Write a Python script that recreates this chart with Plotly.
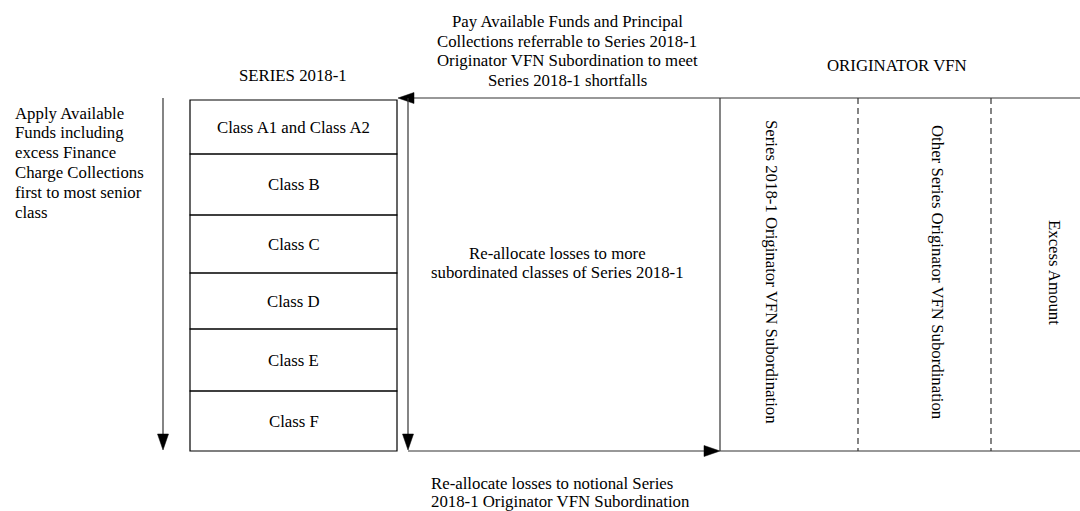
import plotly.graph_objects as go

# ---- content (labels) ----
headers = ["SERIES 2018-1", "ORIGINATOR VFN"]
classes = ["Class A1 and Class A2", "Class B", "Class C", "Class D", "Class E", "Class F"]
vfn_parts = ["Series 2018-1 Originator VFN Subordination",
             "Other Series Originator VFN Subordination",
             "Excess Amount"]
apply_note = ["Apply Available", "Funds including", "excess Finance",
              "Charge Collections", "first to most senior", "class"]
pay_note = ["Pay Available Funds and Principal",
            "Collections referrable to Series 2018-1",
            "Originator VFN Subordination to meet",
            "Series 2018-1 shortfalls"]
realloc_note = ["Re-allocate losses to more", "subordinated classes of Series 2018-1"]
notional_note = ["Re-allocate losses to notional Series",
                 "2018-1 Originator VFN Subordination"]

# ---- layout geometry (canvas pixels, used as axis units) ----
W, H = 1080, 511
FONT = "Liberation Serif, Times New Roman, serif"
FS = 16.8
LC = "#333333"
LW = 1.2
row_edges = [100, 154, 215, 273, 329, 391, 451]
box_x0, box_x1 = 190, 397
top_y, bot_y = 98, 451
left_arrow_x = 163
inner_x = 408
vfn_x = [720, 858, 991, 1080]
line_gap = 19.8

fig = go.Figure()
fig.add_trace(go.Scatter(x=[0, W], y=[0, H], mode="markers",
                         marker=dict(opacity=0), hoverinfo="skip", showlegend=False))

shapes = []
annotations = []

def line(x0, y0, x1, y1, dash="solid"):
    shapes.append(dict(type="line", x0=x0, y0=y0, x1=x1, y1=y1, xref="x", yref="y",
                       line=dict(color=LC, width=LW, dash=dash)))

def head(tx, ty, direction, length=16, half=5.5):
    if direction == "down":
        p = f"M {tx} {ty} L {tx-half} {ty-length} L {tx+half} {ty-length} Z"
    elif direction == "left":
        p = f"M {tx} {ty} L {tx+length} {ty-half} L {tx+length} {ty+half} Z"
    else:  # right
        p = f"M {tx} {ty} L {tx-length} {ty-half} L {tx-length} {ty+half} Z"
    shapes.append(dict(type="path", path=p, xref="x", yref="y",
                       fillcolor="#000000", line=dict(color="#000000", width=0.5)))

def text(x, y, s, xanchor="center", angle=0, size=FS):
    annotations.append(dict(x=x, y=y, xref="x", yref="y", text=s, showarrow=False,
                            xanchor=xanchor, yanchor="middle", textangle=angle,
                            font=dict(family=FONT, size=size, color="#000000")))

# class boxes
for i, name in enumerate(classes):
    y0, y1 = row_edges[i], row_edges[i + 1]
    shapes.append(dict(type="rect", x0=box_x0, x1=box_x1, y0=y0, y1=y1, xref="x", yref="y",
                       line=dict(color="#000000", width=LW), fillcolor="rgba(0,0,0,0)"))
    text((box_x0 + box_x1) / 2, (y0 + y1) / 2, name)

# left priority arrow
line(left_arrow_x, top_y, left_arrow_x, bot_y - 10)
head(left_arrow_x, bot_y - 1, "down")

# top line: from VFN back to series
line(W, top_y, 398 + 10, top_y)
head(398, top_y, "left")

# inner vertical arrow (re-allocate losses)
line(inner_x, top_y, inner_x, bot_y - 10)
head(inner_x, bot_y - 1, "down")

# bottom line to VFN
line(inner_x, bot_y, vfn_x[0] - 10, bot_y)
head(vfn_x[0], bot_y, "right")
line(vfn_x[0], bot_y, W, bot_y)

# VFN box verticals
line(vfn_x[0], top_y, vfn_x[0], bot_y)
line(vfn_x[1], top_y, vfn_x[1], bot_y, dash="6px,4px")
line(vfn_x[2], top_y, vfn_x[2], bot_y, dash="6px,4px")

# VFN parts (rotated)
vfn_centers = [772, 938, 1055]
for cx, s in zip(vfn_centers, vfn_parts):
    text(cx, 272, s, angle=90)

# headers
text(293, 75, headers[0])
text(897, 65, headers[1])

# notes
for k, s in enumerate(apply_note):
    text(13, 113 + k * line_gap, s, xanchor="left")
for k, s in enumerate(pay_note):
    text(567, 21.5 + k * 19.5, s)
for k, s in enumerate(realloc_note):
    text(557, 253 + k * 19.5, s)
for k, s in enumerate(notional_note):
    text(429, 483 + k * 18, s, xanchor="left")

fig.update_layout(
    width=W, height=H,
    margin=dict(l=0, r=0, t=0, b=0),
    paper_bgcolor="white", plot_bgcolor="white",
    xaxis=dict(range=[0, W], visible=False, fixedrange=True),
    yaxis=dict(range=[H, 0], visible=False, fixedrange=True),
    shapes=shapes, annotations=annotations,
    showlegend=False,
)

fig.write_html("out.html", config={"displayModeBar": False},
               post_script="document.body.style.margin='0';document.body.style.overflow='hidden';")
